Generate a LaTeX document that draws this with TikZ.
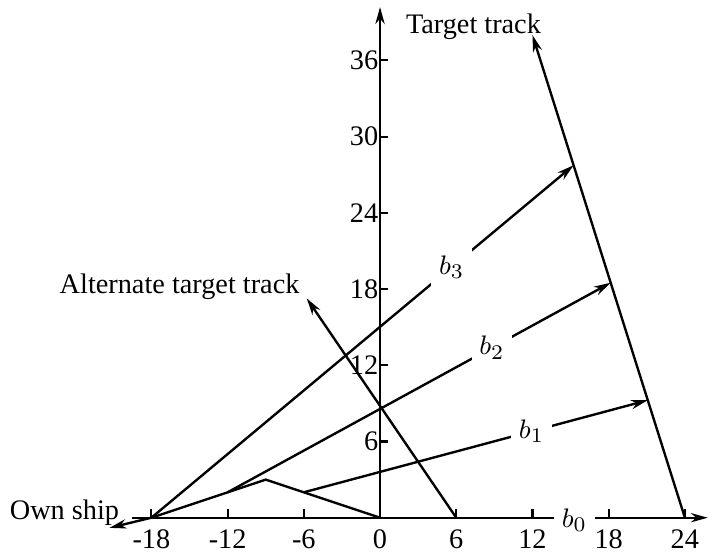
\documentclass[tikz,border=0pt]{standalone}
\usepackage{fontspec}
\setmainfont{Liberation Serif}
\usetikzlibrary{arrows.meta}
\tikzset{
  track-line/.style={line width=0.8pt,draw=black},
  track-arrow/.style={-{Stealth[length=2mm,width=1.1mm]},line width=0.8pt},
  b-label/.style={fill=white,inner sep=2.6pt},
  tick-mark/.style={line width=0.7pt},
}

\begin{document}
\begin{tikzpicture}[x=0.15cm,y=0.15cm,font=\fontsize{9.5}{11}\selectfont]
  \useasboundingbox (-29.92,-2.78) rectangle (25.9,40.76);
  % points of the tracks
  \coordinate (own) at (-18,0);
  \coordinate (ownend) at (-21.3,-0.8);
  \coordinate (turn) at (-9,3);
  \coordinate (orig) at (0,0);
  \coordinate (s2) at (-12,2);
  \coordinate (s1) at (-6,2);
  \coordinate (tgt0) at (24,0);
  \coordinate (tgt1) at (21.08,9.25);
  \coordinate (tgt2) at (18.16,18.5);
  \coordinate (tgt3) at (15.24,27.75);
  \coordinate (tgtend) at (12,38);
  \coordinate (alt0) at (6,0);
  \coordinate (altend) at (-5.77,17.27);
  \coordinate (xstart) at (-19.5,0);
  \coordinate (xend) at (25.8,0);
  \coordinate (yend) at (0,40.2);
  % axes
  \draw[track-arrow] (xstart) -- (xend);
  \draw[track-arrow] (orig) -- (yend);
  \node[b-label] (b0) at (15.3,-0.2) {$b_0$};
  \foreach \x in {-18,-12,-6,6,12,18,24} {
    \draw[tick-mark] (\x,0) -- (\x,0.65);
  }
  \foreach \x in {-18,-12,-6,0,6,12,18,24} {
    \node[anchor=north,inner sep=0pt] (xl\x) at (\x,-0.9) {\x};
  }
  \foreach \y in {6,12,...,36} {
    \draw[tick-mark] (0,\y) -- (0.65,\y);
    \node[anchor=east,inner sep=0pt] (yl\y) at (-0.1,\y) {\y};
  }
  % tracks
  \draw[track-line] (own) -- (turn) -- (orig);
  \draw[track-arrow] (own) -- (ownend);
  \draw[track-arrow] (tgt0) -- (tgtend);
  \draw[track-arrow] (alt0) -- (altend);
  % bearings
  \draw[track-arrow] (own) -- node[b-label,pos=0.711] (b3) {$b_3$} (tgt3);
  \draw[track-arrow] (s2) -- node[b-label,pos=0.69] (b2) {$b_2$} (tgt2);
  \draw[track-arrow] (s1) -- node[b-label,pos=0.662] (b1) {$b_1$} (tgt1);
  % labels
  \node[anchor=base west,inner sep=0pt] (tgtlabel) at (2,38.1) {Target track};
  \node[anchor=base east,inner sep=0pt] (altlabel) at (-6.3,17.67) {Alternate target track};
  \node[anchor=base east,inner sep=0pt] (ownlabel) at (-20.5,-0.13) {Own ship};
\end{tikzpicture}
\end{document}
